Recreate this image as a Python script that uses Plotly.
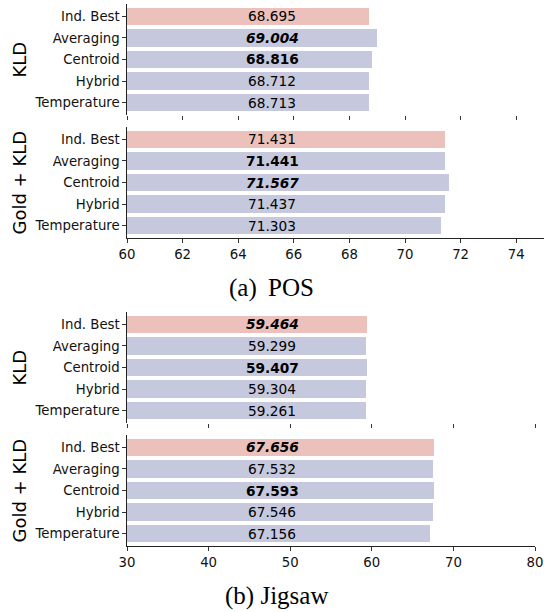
import plotly.graph_objects as go

W, H = 544, 612

methods = ["Ind. Best", "Averaging", "Centroid", "Hybrid", "Temperature"]

pos_kld = [68.695, 69.004, 68.816, 68.712, 68.713]
pos_gold_kld = [71.431, 71.441, 71.567, 71.437, 71.303]
jig_kld = [59.464, 59.299, 59.407, 59.304, 59.261]
jig_gold_kld = [67.656, 67.532, 67.593, 67.546, 67.156]

# style per value: "" normal, "b" bold, "bi" bold italic
pos_kld_style = ["", "bi", "b", "", ""]
pos_gold_kld_style = ["", "b", "bi", "", ""]
jig_kld_style = ["bi", "", "b", "", ""]
jig_gold_kld_style = ["bi", "", "b", "", ""]

group_labels = ["KLD", "Gold + KLD", "KLD", "Gold + KLD"]
captions = ["(a) \u2009POS", "(b) Jigsaw"]

pos_ticks = [60, 62, 64, 66, 68, 70, 72, 74]
jig_ticks = [30, 40, 50, 60, 70, 80]

PINK = "#ecc0bb"
LAV = "#c6c9dd"
colors = [PINK] + [LAV] * 4

FONT = "DejaVu Sans"

# pixel layout (top-based) for each panel's vertical extent
panels_px = [(4, 115), (127, 238), (312, 423), (435, 546)]
x_left = 127
x_right = [544, 544, 535, 535]

datasets = [pos_kld, pos_gold_kld, jig_kld, jig_gold_kld]
styles = [pos_kld_style, pos_gold_kld_style, jig_kld_style, jig_gold_kld_style]
ranges = [[60, 75], [60, 75], [30, 80], [30, 80]]
ticks = [pos_ticks, pos_ticks, jig_ticks, jig_ticks]

fig = go.Figure()
annotations = []
layout = {}

def fmt(v, st):
    s = f"{v:.3f}"
    if st == "b":
        return f"<b>{s}</b>"
    if st == "bi":
        return f"<b><i>{s}</i></b>"
    return s

for i in range(4):
    n = i + 1
    xa = "x" if n == 1 else f"x{n}"
    ya = "y" if n == 1 else f"y{n}"
    fig.add_trace(go.Bar(
        x=datasets[i], y=methods, orientation="h",
        marker=dict(color=colors, line=dict(width=0)),
        width=0.82, xaxis=xa, yaxis=ya, showlegend=False,
        hoverinfo="x+y",
    ))
    top, bot = panels_px[i]
    ydom = [1 - bot / H, 1 - top / H]
    xdom = [x_left / W, x_right[i] / W]
    is_bottom = (i % 2 == 1)
    layout["xaxis" if n == 1 else f"xaxis{n}"] = dict(
        domain=xdom, anchor=ya, range=ranges[i], automargin=False,
        tickvals=ticks[i], ticktext=[str(t) for t in ticks[i]],
        showticklabels=is_bottom, ticks="outside", ticklen=3.5, tickwidth=1,
        tickcolor="#333333", showline=is_bottom, linecolor="#222222", linewidth=1.2,
        showgrid=False, zeroline=False,
        tickfont=dict(family=FONT, size=13.3, color="#111111"),
    )
    layout["yaxis" if n == 1 else f"yaxis{n}"] = dict(
        domain=ydom, anchor=xa, type="category", categoryarray=methods,
        categoryorder="array", range=[4.58, -0.58], automargin=False,
        ticks="outside", ticklen=3.5, tickwidth=1, tickcolor="#333333",
        showline=True, linecolor="#222222", linewidth=1.2,
        showgrid=False, zeroline=False,
        tickfont=dict(family=FONT, size=13.3, color="#111111"),
    )
    for m, v, st in zip(methods, datasets[i], styles[i]):
        annotations.append(dict(
            x=0.5, xref="paper", y=m, yref=ya, text=fmt(v, st),
            showarrow=False, xanchor="center", yanchor="middle",
            font=dict(family=FONT, size=13.7, color="#000000"),
        ))
    annotations.append(dict(
        x=19 / W, xref="paper", y=1 - (top + bot) / 2 / H, yref="paper",
        text=group_labels[i], textangle=-90, showarrow=False,
        xanchor="center", yanchor="middle",
        font=dict(family=FONT, size=18, color="#000000"),
    ))

for cap, xpx, ypx in zip(captions, [271, 276], [288, 596]):
    annotations.append(dict(
        x=xpx / W, xref="paper", y=1 - ypx / H, yref="paper", text=cap,
        showarrow=False, xanchor="center", yanchor="middle",
        font=dict(family="Liberation Serif", size=25, color="#000000"),
    ))

fig.update_layout(
    width=W, height=H, margin=dict(l=0, r=0, t=0, b=0, autoexpand=False),
    paper_bgcolor="white", plot_bgcolor="white",
    annotations=annotations, bargap=0, **layout,
)

fig.write_html(
    "out.html",
    config={"responsive": False, "displayModeBar": False},
)
